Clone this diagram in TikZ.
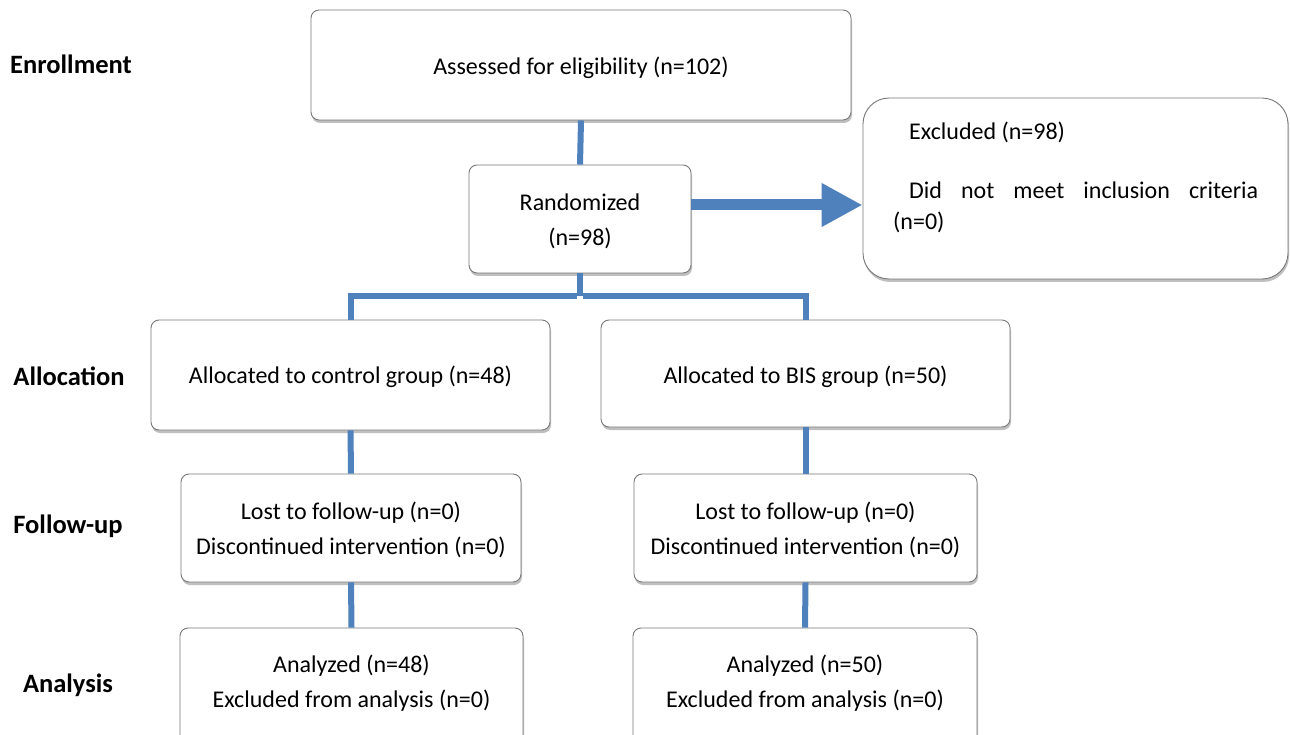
\documentclass[tikz,border=0pt]{standalone}
\usepackage{fontspec}
\setmainfont{Carlito}
\usetikzlibrary{arrows.meta,shadows}
\definecolor{conn}{RGB}{79,129,189}
\definecolor{boxline}{RGB}{120,120,120}
\tikzset{
  box/.style={draw=boxline, line width=0.9pt, fill=white, rounded corners=8pt,
    align=center, font=\fontsize{24}{36}\selectfont, inner sep=0pt,
    drop shadow={shadow xshift=1pt, shadow yshift=-3pt, opacity=0.25, fill=black}},
  btext/.style={align=center, font=\fontsize{24}{35}\selectfont, inner sep=0pt},
  phase/.style={font=\fontsize{26.5}{30}\selectfont\bfseries, anchor=center},
  conn/.style={draw=conn, line width=6pt},
  bigarrow/.style={draw=conn, line width=11pt, -{Triangle[length=41pt,width=41pt]}},
}
\begin{document}
\begin{tikzpicture}[x=1pt,y=-1pt]
\useasboundingbox (0,0) rectangle (1290,735);
\clip (0,0) rectangle (1290,735);
\fill[white] (0,0) rectangle (1290,735);

% phase labels
\node[phase] (lenr) at (71,64) {Enrollment};
\node[phase] (lall) at (69,376) {Allocation};
\node[phase] (lfol) at (68,526) {Follow-up};
\node[phase] (lana) at (68,685) {Analysis};

\coordinate (split) at (580,296);

% boxes
\node[box, minimum width=540pt, minimum height=110pt] (assess) at (581,65) {};
\node[btext] (assesstext) at (581,68) {Assessed for eligibility (n=102)};
\node[box, minimum width=222pt, minimum height=108pt] (rand) at (580,219) {};
\node[btext] (randtext) at (580,221) {Randomized\\(n=98)};
\node[box, rounded corners=26pt, minimum width=425pt, minimum height=181pt] (excl) at (1075.5,188.5) {};
\node[anchor=north west, text width=365pt, align=justify, inner sep=0pt,
  font=\fontsize{24}{31}\selectfont] (excltext) at (893,122)
  {\hspace*{16pt}Excluded (n=98)\\[28pt]\hspace*{16pt}Did not meet inclusion criteria\linebreak (n=0)};

\node[box, minimum width=399pt, minimum height=110pt] (ctrl) at (350.5,375) {};
\node[btext] (ctrltext) at (350.5,377) {Allocated to control group (n=48)};
\node[box, minimum width=409pt, minimum height=107pt] (bis) at (805.5,373.5) {};
\node[btext] (bistext) at (805.5,377) {Allocated to BIS group (n=50)};

\node[box, minimum width=340pt, minimum height=108pt] (fctrl) at (351,528) {};
\node[btext] (fctrltext) at (351,530) {Lost to follow-up (n=0)\\Discontinued intervention (n=0)};
\node[box, minimum width=343pt, minimum height=108pt] (fbis) at (805.5,528) {};
\node[btext] (fbistext) at (805.5,530) {Lost to follow-up (n=0)\\Discontinued intervention (n=0)};

\node[box, minimum width=343pt, minimum height=140pt] (actrl) at (351.5,698) {};
\node[btext] (actrltext) at (351.5,683) {Analyzed (n=48)\\Excluded from analysis (n=0)};
\node[box, minimum width=344pt, minimum height=140pt] (abis) at (805,698) {};
\node[btext] (abistext) at (805,683) {Analyzed (n=50)\\Excluded from analysis (n=0)};

% connectors
\draw[conn] (assess.south) -- (rand.north);
\draw[conn] (rand.south) -- (split);
\draw[conn] ([xshift=-3pt]split) -| (ctrl.north);
\draw[conn] ([xshift=3pt]split) -| (bis.north);
\draw[conn] (ctrl.south) -- (fctrl.north);
\draw[conn] (bis.south) -- (fbis.north);
\draw[conn] (fctrl.south) -- (actrl.north);
\draw[conn] (fbis.south) -- (abis.north);
\draw[bigarrow] ([yshift=14pt]rand.east) -- ([yshift=14pt]rand.east -| excl.west);
\end{tikzpicture}
\end{document}
